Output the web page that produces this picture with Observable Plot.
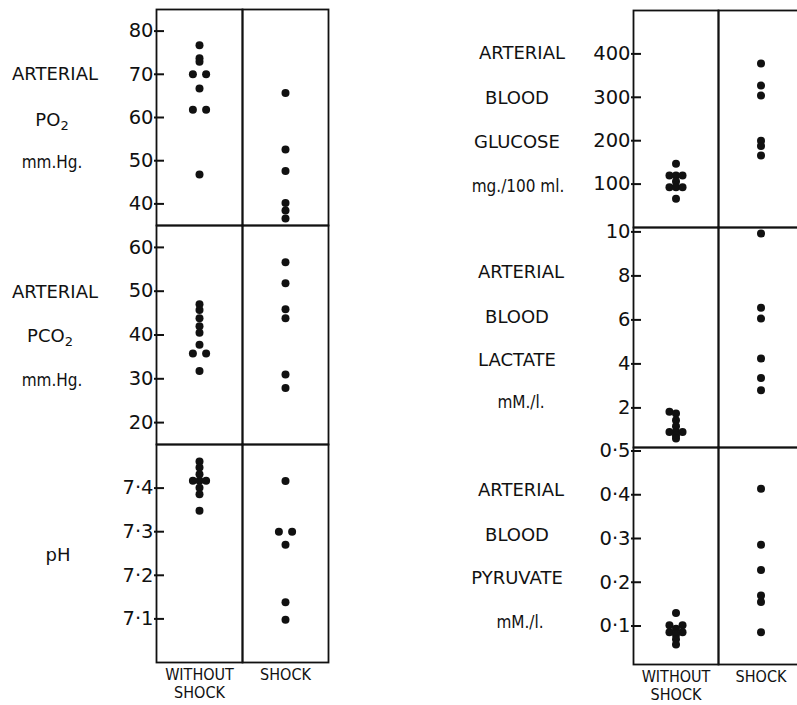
<!DOCTYPE html>
<html>
<head>
<meta charset="utf-8">
<script src="https://cdn.jsdelivr.net/npm/d3@7"></script>
<script src="https://cdn.jsdelivr.net/npm/@observablehq/plot@0.6"></script>
<style>
  html, body { margin: 0; padding: 0; background: #fff; overflow: hidden; }
  #root { position: relative; width: 797px; height: 705px; background: #fff; }
  .panel { position: absolute; }
  .lab { position: absolute; transform: translate(-50%, -50%); font-family: "DejaVu Sans", sans-serif; font-size: 18px; color: #111; white-space: nowrap; line-height: 1; }
  .lab.small { font-family: "DejaVu Sans Condensed", "Liberation Sans Narrow", "DejaVu Sans", sans-serif; font-size: 17px; }
  .lab sub { font-size: 13px; vertical-align: -4px; }
</style>
</head>
<body>
<div id="root"></div>
<script>
// ---- categories ----
const groups = ["WITHOUT SHOCK", "SHOCK"];

// ---- Arterial PO2 (mm.Hg.) ----
const po2Without     = [76.7, 73.7, 72.9, 70, 70, 66.7, 61.8, 61.8, 46.8];
const po2WithoutSlot = [0, 0, 0, -1, 1, 0, -1, 1, 0];
const po2Shock       = [65.7, 52.6, 47.6, 40.2, 38.5, 36.6];
const po2ShockSlot   = [0, 0, 0, 0, 0, 0];
const po2Ticks = [40, 50, 60, 70, 80];

// ---- Arterial PCO2 (mm.Hg.) ----
const pco2Without     = [47.0, 45.7, 43.8, 42.0, 40.5, 37.8, 35.8, 35.8, 31.8];
const pco2WithoutSlot = [0, 0, 0, 0, 0, 0, -1, 1, 0];
const pco2Shock       = [56.6, 51.8, 45.9, 43.8, 31.0, 27.9];
const pco2ShockSlot   = [0, 0, 0, 0, 0, 0];
const pco2Ticks = [20, 30, 40, 50, 60];

// ---- pH ----
const phWithout     = [7.461, 7.447, 7.432, 7.417, 7.417, 7.417, 7.401, 7.386, 7.348];
const phWithoutSlot = [0, 0, 0, -1, 0, 1, 0, 0, 0];
const phShock       = [7.416, 7.30, 7.30, 7.270, 7.138, 7.098];
const phShockSlot   = [0, -1, 1, 0, 0, 0];
const phTicks = [7.1, 7.2, 7.3, 7.4];

// ---- Arterial blood glucose (mg./100 ml.) ----
const gluWithout     = [147, 120, 120, 120, 106, 93, 93, 93, 66];
const gluWithoutSlot = [0, -1, 0, 1, 0, -1, 0, 1, 0];
const gluShock       = [378, 327, 304, 200, 188, 166];
const gluShockSlot   = [0, 0, 0, 0, 0, 0];
const gluTicks = [100, 200, 300, 400];

// ---- Arterial blood lactate (mM./l.) ----
const lacWithout     = [1.82, 1.75, 1.44, 1.17, 0.91, 0.91, 0.91, 0.75, 0.61];
const lacWithoutSlot = [-1, 0, 0, 0, -1, 0, 1, 0, 0];
const lacShock       = [9.93, 6.55, 6.06, 4.25, 3.36, 2.80];
const lacShockSlot   = [0, 0, 0, 0, 0, 0];
const lacTicks = [2, 4, 6, 8, 10];

// ---- Arterial blood pyruvate (mM./l.) ----
const pyrWithout     = [0.130, 0.102, 0.102, 0.094, 0.086, 0.086, 0.080, 0.070, 0.058];
const pyrWithoutSlot = [0, -1, 1, 0, -1, 1, 0, 0, 0];
const pyrShock       = [0.414, 0.286, 0.228, 0.170, 0.155, 0.086];
const pyrShockSlot   = [0, 0, 0, 0, 0, 0];
const pyrTicks = [0.1, 0.2, 0.3, 0.4, 0.5];

function rows(wv, ws, sv, ss) {
  const out = [];
  wv.forEach((v, i) => out.push({group: groups[0], value: v, slot: ws[i]}));
  sv.forEach((v, i) => out.push({group: groups[1], value: v, slot: ss[i]}));
  return out;
}

const dotFmt = (d) => String(d).replace(".", "\u00b7");

const root = document.getElementById("root");

// Row labels (added first, beneath the plots)
const labels = [
  ["ARTERIAL", 55, 74], ["PO<sub>2</sub>", 52, 121], ["mm.Hg.", 52, 162, "small"],
  ["ARTERIAL", 55, 292], ["PCO<sub>2</sub>", 50, 337], ["mm.Hg.", 52, 380, "small"],
  ["pH", 58, 555],
  ["ARTERIAL", 522, 53], ["BLOOD", 517, 98], ["GLUCOSE", 517, 142], ["mg./100 ml.", 518, 186, "small"],
  ["ARTERIAL", 521, 272], ["BLOOD", 517, 317], ["LACTATE", 517, 360], ["mM./l.", 521, 402, "small"],
  ["ARTERIAL", 521, 490], ["BLOOD", 517, 535], ["PYRUVATE", 517, 578], ["mM./l.", 520, 622, "small"]
];
for (const [t, x, y, cls] of labels) {
  const d = document.createElement("div");
  d.className = "lab" + (cls ? " " + cls : "");
  d.innerHTML = t;
  d.style.left = x + "px";
  d.style.top = y + "px";
  root.appendChild(d);
}

const ML = 70, MR = 6, MT = 6;

function panel({data, left, right, top, bottom, domain, ticks, fmt, showFx}) {
  const MB = showFx ? 50 : 6;
  const marks = [
    Plot.frame({stroke: "#111", strokeWidth: 1.8}),
    Plot.dot(data, {fx: "group", x: "slot", y: "value", r: 4, fill: "#111", stroke: null}),
    // tick labels
    Plot.axisY({ticks, tickFormat: fmt || (d => String(d)), tickSize: 0, tickPadding: 3, fontSize: 19.5, label: null}),
    // tick marks, shifted so they point into the frame
    Plot.axisY({ticks, tickSize: 10, dx: 8, tickFormat: () => "", stroke: "#111", strokeWidth: 2, label: null})
  ];
  if (showFx) {
    marks.push(Plot.axisFx({anchor: "bottom", tickSize: 0, tickPadding: 5, label: null, fontSize: 16, lineHeight: 1.1,
      fontFamily: "'DejaVu Sans Condensed', 'Liberation Sans Narrow', 'DejaVu Sans', sans-serif",
      tickFormat: d => d === "WITHOUT SHOCK" ? "WITHOUT\nSHOCK" : d}));
  }
  const svg = Plot.plot({
    width: ML + (right - left) + MR,
    height: MT + (bottom - top) + MB,
    marginLeft: ML, marginRight: MR, marginTop: MT, marginBottom: MB,
    style: {fontFamily: "'DejaVu Sans', sans-serif", fontSize: "18px", color: "#111"},
    fx: {domain: groups, padding: 0, axis: null},
    x: {domain: [-6.5, 6.5], axis: null},
    y: {domain, axis: null},
    marks
  });
  svg.classList.add("panel");
  svg.style.left = (left - ML) + "px";
  svg.style.top = (top - MT) + "px";
  svg.style.background = "none";
  svg.style.maxWidth = "none";
  root.appendChild(svg);
}

// Left column
panel({data: rows(po2Without, po2WithoutSlot, po2Shock, po2ShockSlot), left: 156, right: 328, top: 9, bottom: 225, domain: [35, 85], ticks: po2Ticks});
panel({data: rows(pco2Without, pco2WithoutSlot, pco2Shock, pco2ShockSlot), left: 156, right: 328, top: 225, bottom: 444, domain: [15, 65], ticks: pco2Ticks});
panel({data: rows(phWithout, phWithoutSlot, phShock, phShockSlot), left: 156, right: 328, top: 444, bottom: 662, domain: [7.0, 7.5], ticks: phTicks, fmt: dotFmt, showFx: true});
// Right column
panel({data: rows(gluWithout, gluWithoutSlot, gluShock, gluShockSlot), left: 633, right: 803, top: 10, bottom: 227, domain: [0, 500], ticks: gluTicks});
panel({data: rows(lacWithout, lacWithoutSlot, lacShock, lacShockSlot), left: 633, right: 803, top: 227, bottom: 447, domain: [0.2, 10.2], ticks: lacTicks});
panel({data: rows(pyrWithout, pyrWithoutSlot, pyrShock, pyrShockSlot), left: 633, right: 803, top: 447, bottom: 664, domain: [0.012, 0.508], ticks: pyrTicks, fmt: dotFmt, showFx: true});
</script>
</body>
</html>
